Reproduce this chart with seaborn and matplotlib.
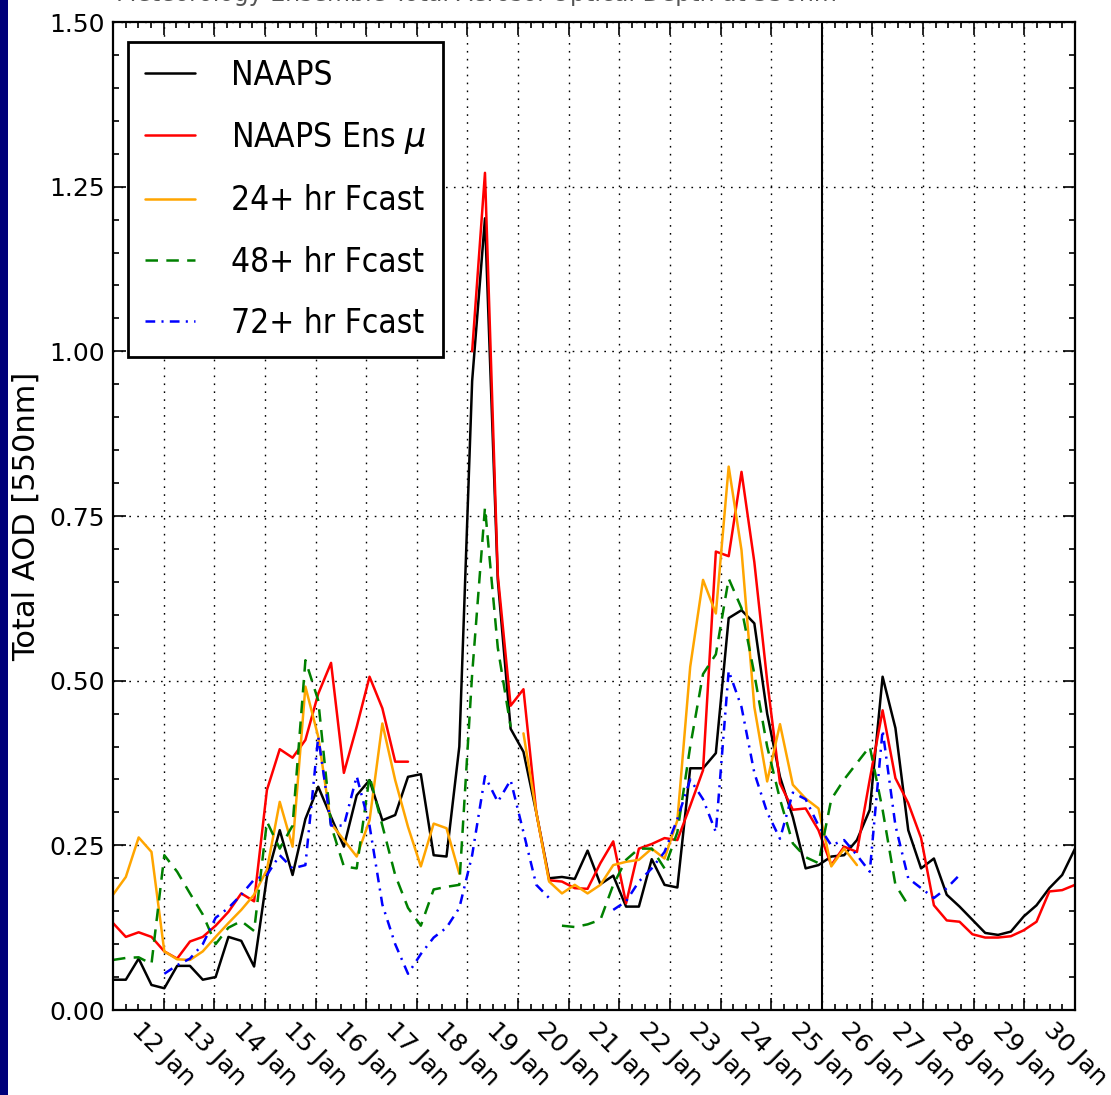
import numpy as np
import pandas as pd
import matplotlib
matplotlib.use("Agg")
import matplotlib.pyplot as plt
import seaborn as sns
from matplotlib.ticker import MultipleLocator, FixedLocator, FormatStrFormatter
from matplotlib.lines import Line2D
from matplotlib.patches import Rectangle
from matplotlib import font_manager as fm

nan = np.nan

# ---------------- data ----------------
# 76 samples spread evenly over 19 days, starting 11 Jan 00Z (x = days since 11 Jan)
n_days = 19
n_pts = 76
day_labels = ["12 Jan", "13 Jan", "14 Jan", "15 Jan", "16 Jan", "17 Jan", "18 Jan",
              "19 Jan", "20 Jan", "21 Jan", "22 Jan", "23 Jan", "24 Jan", "25 Jan",
              "26 Jan", "27 Jan", "28 Jan", "29 Jan", "30 Jan"]
analysis_day = 14  # vertical line: 25 Jan

naaps = [0.046, 0.046, 0.078, 0.038, 0.033, 0.067, 0.067, 0.046, 0.050, 0.111,
         0.105, 0.066, 0.202, 0.273, 0.205, 0.290, 0.339, 0.293, 0.248, 0.326,
         0.349, 0.288, 0.296, 0.354, 0.358, 0.235, 0.233, 0.400, 0.955, 1.202,
         0.653, 0.427, 0.392, 0.300, 0.200, 0.202, 0.199, 0.242, 0.191, 0.204,
         0.157, 0.157, 0.229, 0.190, 0.186, 0.367, 0.367, 0.390, 0.595, 0.607,
         0.587, 0.450, 0.354, 0.293, 0.215, 0.220, 0.233, 0.235, 0.258, 0.304,
         0.506, 0.428, 0.273, 0.215, 0.230, 0.175, 0.157, 0.137, 0.117, 0.114,
         0.119, 0.142, 0.159, 0.185, 0.205, 0.245]

ens_mean = [0.132, 0.111, 0.118, 0.111, 0.089, 0.078, 0.104, 0.111, 0.128, 0.149,
            0.177, 0.165, 0.334, 0.396, 0.383, 0.410, 0.480, 0.527, 0.360, 0.430,
            0.506, 0.458, 0.377, 0.377, nan, nan, nan, nan, 1.000, 1.271,
            0.660, 0.462, 0.487, 0.300, 0.197, 0.195, 0.185, 0.184, 0.223, 0.256,
            0.162, 0.245, 0.252, 0.261, 0.258, 0.310, 0.364, 0.696, 0.689, 0.817,
            0.680, 0.500, 0.344, 0.304, 0.306, 0.273, 0.220, 0.248, 0.240, 0.350,
            0.455, 0.352, 0.314, 0.261, 0.159, 0.136, 0.134, 0.115, 0.110, 0.110,
            0.112, 0.121, 0.134, 0.180, 0.182, 0.190]

fcast24 = [0.175, 0.202, 0.262, 0.240, 0.089, 0.077, 0.076, 0.089, 0.111, 0.132,
           0.152, 0.175, 0.213, 0.316, 0.248, 0.491, 0.415, 0.283, 0.258, 0.233,
           0.288, 0.435, 0.349, 0.278, 0.218, 0.283, 0.276, 0.207, nan, nan,
           nan, nan, 0.420, 0.300, 0.195, 0.177, 0.190, 0.177, 0.190, 0.220,
           0.225, 0.228, 0.245, 0.230, 0.288, 0.521, 0.653, 0.602, 0.825, 0.698,
           0.460, 0.347, 0.434, 0.342, 0.321, 0.306, 0.218, 0.245, 0.220, nan,
           nan, nan, nan, nan, nan, nan, nan, nan, nan, nan,
           nan, nan, nan, nan, nan, nan]

fcast48 = [0.076, 0.079, 0.080, 0.070, 0.235, 0.210, 0.177, 0.145, 0.100, 0.125,
           0.135, 0.120, 0.286, 0.245, 0.280, 0.531, 0.470, 0.280, 0.218, 0.215,
           0.355, 0.280, 0.205, 0.155, 0.128, 0.183, 0.187, 0.190, 0.510, 0.763,
           0.550, 0.430, nan, nan, nan, 0.128, 0.126, 0.130, 0.137, 0.190,
           0.228, 0.245, 0.245, 0.215, 0.270, 0.400, 0.510, 0.540, 0.655, 0.610,
           0.510, 0.400, 0.320, 0.253, 0.232, 0.223, 0.320, 0.350, 0.375, 0.400,
           0.304, 0.190, 0.159, nan, nan, nan, nan, nan, nan, nan,
           nan, nan, nan, nan, nan, nan]

fcast72 = [nan, nan, nan, nan, 0.055, 0.068, 0.078, 0.100, 0.140, 0.155,
           0.175, 0.198, 0.205, 0.235, 0.215, 0.220, 0.415, 0.280, 0.280, 0.355,
           0.280, 0.160, 0.100, 0.055, 0.085, 0.110, 0.125, 0.155, 0.235, 0.355,
           0.316, 0.349, 0.270, 0.190, 0.170, nan, nan, nan, nan, 0.152,
           0.165, 0.195, 0.215, 0.240, 0.290, 0.350, 0.320, 0.270, 0.515, 0.460,
           0.360, 0.300, 0.260, 0.330, 0.320, 0.280, 0.250, 0.258, 0.235, 0.210,
           0.425, 0.280, 0.200, 0.185, 0.170, 0.185, 0.205, nan, nan, nan,
           nan, nan, nan, nan, nan, nan]

series_names = ["NAAPS", r"NAAPS Ens $\mu$", "24+ hr Fcast", "48+ hr Fcast", "72+ hr Fcast"]
series_vals = [naaps, ens_mean, fcast24, fcast48, fcast72]
series_colors = ["#000000", "#ff0000", "#ffa500", "#008000", "#0000ff"]
series_styles = ["-", "-", "-", (0, (9, 6)), (0, (7, 4.5, 1.5, 4.5))]

# ---------------- style ----------------
sns.set_theme(style="white")
plt.rcParams["font.family"] = ["DejaVu Sans"]
plt.rcParams["lines.scale_dashes"] = False
plt.rcParams["mathtext.fontset"] = "dejavusans"
for k in ["text.color", "axes.labelcolor", "xtick.color", "ytick.color", "axes.edgecolor"]:
    plt.rcParams[k] = "black"

W, H = 1111, 1095
fig = plt.figure(figsize=(W / 100, H / 100), dpi=100, facecolor="white")
ax = fig.add_axes([113 / W, 1 - 1010 / H, (1075 - 113) / W, (1010 - 22) / H])
ax.set_facecolor("white")

t = np.linspace(0, n_days, n_pts)

for vals, col, ls in zip(series_vals, series_colors, series_styles):
    df = pd.DataFrame({"t": t, "v": np.array(vals, dtype=float)})
    df["seg"] = df["v"].isna().cumsum()
    df = df.dropna()
    sns.lineplot(data=df, x="t", y="v", units="seg", estimator=None, sort=False,
                 color=col, linestyle=ls, linewidth=1.8, ax=ax, legend=False)

ax.axvline(analysis_day, color="black", linewidth=1.5, zorder=5)

# axes limits / ticks
ax.set_xlim(0, n_days)
ax.set_ylim(0, 1.5)
ax.xaxis.set_major_locator(FixedLocator(np.arange(1, n_days + 1)))
ax.xaxis.set_minor_locator(MultipleLocator(0.25))
ax.set_xticklabels(day_labels, rotation=-45, ha="center", fontsize=18)
ax.yaxis.set_major_locator(MultipleLocator(0.25))
ax.yaxis.set_minor_locator(MultipleLocator(0.05))
ax.yaxis.set_major_formatter(FormatStrFormatter("%.2f"))
ax.tick_params(axis="y", labelsize=18)
ax.tick_params(which="both", direction="in", top=True, right=True, color="black",
               width=1.2, bottom=True, left=True)
ax.tick_params(which="major", length=9, pad=6)
ax.tick_params(which="minor", length=4.5)
ax.set_xlabel("")
ax.set_ylabel("Total AOD [550nm]", fontsize=22, labelpad=6)

ax.grid(True, which="major", color="black", linestyle=(0, (1.2, 4.5)), linewidth=1.0)
for sp in ax.spines.values():
    sp.set_color("black")
    sp.set_linewidth(1.6)
    sp.set_visible(True)

# legend
condensed = any(f.name == "DejaVu Sans" and f.stretch == "condensed" for f in fm.fontManager.ttflist)
if condensed:
    legfont = fm.FontProperties(family="DejaVu Sans", stretch="condensed", size=24)
else:
    legfont = fm.FontProperties(family="DejaVu Sans", size=22)
handles = [Line2D([0], [0], color=c, linestyle=s, linewidth=1.8) for c, s in zip(series_colors, series_styles)]
leg = ax.legend(handles, series_names, loc="upper left", bbox_to_anchor=(0.0156, 0.9798),
                borderaxespad=0, prop=legfont, frameon=True, fancybox=False,
                framealpha=1, edgecolor="black", handlelength=1.5, handletextpad=1.1,
                labelspacing=0.85, borderpad=0.5)
leg.get_frame().set_linewidth(2.0)

# top (cut off) title and left border strip
fig.text(116 / W, 1 - 1 / H, "Meteorology Ensemble Total Aerosol Optical Depth at 550nm",
         color="#555555", fontsize=17, va="baseline", ha="left")
fig.patches.append(Rectangle((0, 0), 8 / W, 1, transform=fig.transFigure,
                             facecolor="#00007a", edgecolor="none", zorder=10))

fig.savefig("out.png", dpi=100, facecolor="white")
